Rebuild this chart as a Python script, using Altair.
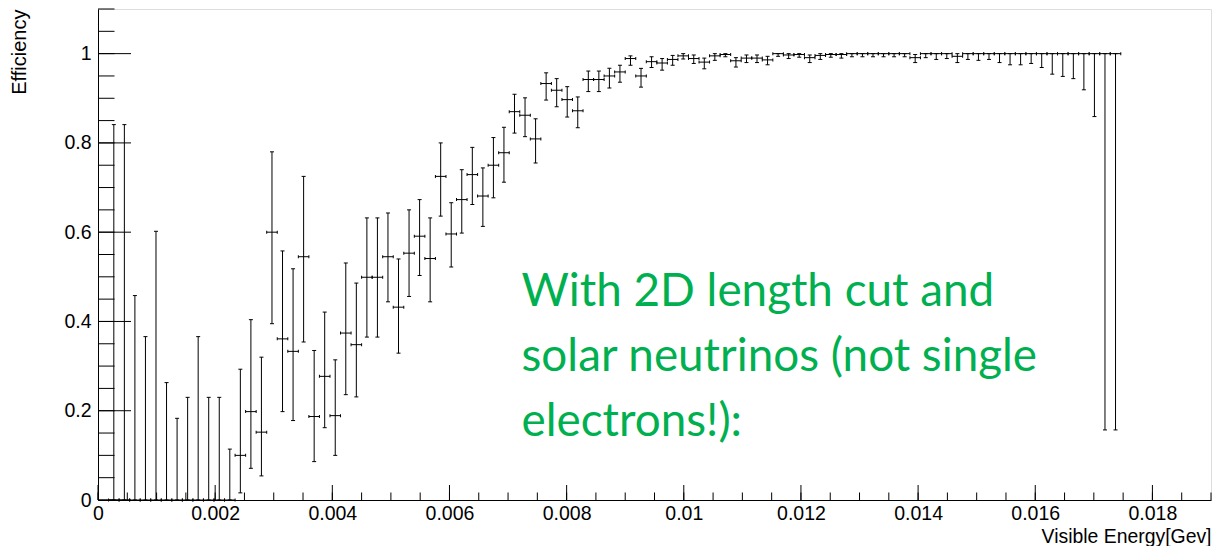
import altair as alt
import pandas as pd

# ---- data (TEfficiency-like histogram, bin width 0.00018) ----
bin_width = 0.00018
bin_index = list(range(1, 97))

efficiency = [
    0, 0, 0, 0, 0, 0, 0, 0, 0, 0, 0, 0,                       # bins 1-12
    0.100, 0.198, 0.152, 0.600, 0.361, 0.333, 0.545,           # 13-19
    0.187, 0.277, 0.189, 0.374, 0.348, 0.499, 0.499, 0.545, 0.432, 0.553,  # 20-29
    0.591, 0.541, 0.725, 0.596, 0.673, 0.729, 0.681, 0.750, 0.778, 0.870,  # 30-39
    0.862, 0.809, 0.933, 0.918, 0.897, 0.872, 0.942, 0.942, 0.950, 0.959,  # 40-49
    0.989, 0.950, 0.982, 0.979, 0.987, 0.995, 0.989, 0.981, 0.995, 0.998,  # 50-59
    0.984, 0.990, 0.990, 0.986, 1.000, 0.997, 0.998, 0.991, 0.996, 0.998,  # 60-69
    0.998, 1.000, 1.000, 1.000, 1.000, 1.000, 1.000, 0.991, 1.000, 1.000,  # 70-79
    1.000, 0.994, 1.000, 1.000, 1.000, 1.000, 1.000, 1.000, 1.000, 1.000,  # 80-89
    1.000, 1.000, 1.000, 1.000, 1.000, 1.000, 1.000,                      # 90-96
]

err_low = [
    0, 0, 0, 0, 0, 0, 0, 0, 0, 0, 0, 0,
    0.016, 0.071, 0.054, 0.395, 0.198, 0.178, 0.354,
    0.086, 0.162, 0.100, 0.236, 0.231, 0.365, 0.365, 0.444, 0.329, 0.456,
    0.503, 0.444, 0.636, 0.522, 0.598, 0.662, 0.613, 0.677, 0.712, 0.822,
    0.814, 0.755, 0.896, 0.881, 0.858, 0.834, 0.915, 0.915, 0.923, 0.936,
    0.974, 0.925, 0.969, 0.963, 0.974, 0.988, 0.978, 0.966, 0.985, 0.993,
    0.970, 0.980, 0.980, 0.975, 0.994, 0.989, 0.992, 0.980, 0.987, 0.992,
    0.990, 0.993, 0.993, 0.993, 0.993, 0.993, 0.993, 0.980, 0.991, 0.987,
    0.989, 0.980, 0.987, 0.985, 0.987, 0.980, 0.975, 0.975, 0.978, 0.969,
    0.954, 0.949, 0.944, 0.919, 0.859, 0.157, 0.157,
]

err_high = [
    0.841, 0.841, 0.458, 0.366, 0.602, 0.263, 0.183, 0.230, 0.366, 0.230, 0.230, 0.114,
    0.293, 0.404, 0.320, 0.780, 0.558, 0.518, 0.725,
    0.335, 0.421, 0.314, 0.531, 0.486, 0.632, 0.632, 0.643, 0.540, 0.650,
    0.673, 0.632, 0.800, 0.666, 0.740, 0.790, 0.744, 0.812, 0.835, 0.909,
    0.901, 0.854, 0.957, 0.944, 0.926, 0.903, 0.961, 0.961, 0.967, 0.974,
    0.995, 0.967, 0.993, 0.989, 0.996, 1.000, 0.997, 0.990, 1.000, 1.000,
    0.991, 0.997, 0.997, 0.994, 1.000, 1.000, 1.000, 0.997, 1.000, 1.000,
    1.000, 1.000, 1.000, 1.000, 1.000, 1.000, 1.000, 0.998, 1.000, 1.000,
    1.000, 1.000, 1.000, 1.000, 1.000, 1.000, 1.000, 1.000, 1.000, 1.000,
    1.000, 1.000, 1.000, 1.000, 1.000, 1.000, 1.000,
]

x_tick_labels = [0, 0.002, 0.004, 0.006, 0.008, 0.01, 0.012, 0.014, 0.016, 0.018]
x_minor = [round(i * 0.0005, 4) for i in range(0, 39)]
y_tick_labels = [0, 0.2, 0.4, 0.6, 0.8, 1]
y_minor = [round(i * 0.05, 2) for i in range(0, 23)]

annotation_lines = ["With 2D length cut and", "solar neutrinos (not single", "electrons!):"]

# ---- tables ----
df = pd.DataFrame({
    "bin": bin_index,
    "eff": efficiency,
    "lo": err_low,
    "hi": err_high,
})
df["x"] = (df["bin"] + 0.5) * bin_width
df["xl"] = df["bin"] * bin_width
df["xr"] = (df["bin"] + 1) * bin_width

W, H = 1113, 491
XMAX, YMAX = 0.019, 1.1
FONT = "Liberation Sans"

xs = alt.Scale(domain=[0, XMAX], nice=False, zero=False)
ys = alt.Scale(domain=[0, YMAX], nice=False, zero=False)

xaxis = alt.Axis(values=x_tick_labels, format="~g", ticks=False, grid=False,
                 labelFont=FONT, labelFontSize=19.5, labelColor="black", labelPadding=4,
                 labelFlush=False, domainColor="black", title="Visible Energy[Gev]",
                 titleFont=FONT, titleFontSize=19.4, titleFontWeight="normal",
                 titleColor="black", titleAnchor="end", titleAlign="right", titleX=W,
                 titleY=42, titleBaseline="alphabetic", labelOverlap=False)
yaxis = alt.Axis(values=y_tick_labels, format="~g", ticks=False, grid=False,
                 labelFont=FONT, labelFontSize=19.5, labelColor="black", labelPadding=7,
                 labelFlush=False, domainColor="black", title="Efficiency", titleFont=FONT,
                 titleFontSize=20, titleFontWeight="normal", titleColor="black",
                 titleAngle=270, titleAlign="right", titleAnchor="end",
                 titleX=-73, titleY=0, titleBaseline="alphabetic", labelOverlap=False)

base = alt.Chart(df)

vbar = base.mark_rule(color="black", strokeWidth=1).encode(
    x=alt.X("x:Q", scale=xs, axis=xaxis),
    y=alt.Y("lo:Q", scale=ys, axis=yaxis),
    y2="hi:Q",
)
hbar = base.mark_rule(color="black", strokeWidth=1).encode(
    x=alt.X("xl:Q", scale=xs), x2="xr:Q", y=alt.Y("eff:Q", scale=ys)
)
vcaps = base.transform_fold(["lo", "hi"], as_=["k", "v"]).mark_tick(
    orient="horizontal", size=4, thickness=1, color="black", opacity=1
).encode(x=alt.X("x:Q", scale=xs), y=alt.Y("v:Q", scale=ys))
hcaps = base.transform_fold(["xl", "xr"], as_=["k", "v"]).mark_tick(
    orient="vertical", size=3, thickness=1, color="black", opacity=1
).encode(x=alt.X("v:Q", scale=xs), y=alt.Y("eff:Q", scale=ys))

# inward ticks (ROOT style)
xmaj = alt.Chart(pd.DataFrame({"t": x_tick_labels})).mark_rule(color="black", strokeWidth=1).encode(
    x=alt.X("t:Q", scale=xs), y=alt.value(H), y2=alt.value(H - 15))
xmin_ = alt.Chart(pd.DataFrame({"t": x_minor})).mark_rule(color="black", strokeWidth=1).encode(
    x=alt.X("t:Q", scale=xs), y=alt.value(H), y2=alt.value(H - 7.5))
ymaj = alt.Chart(pd.DataFrame({"t": y_tick_labels})).mark_rule(color="black", strokeWidth=1).encode(
    y=alt.Y("t:Q", scale=ys), x=alt.value(0), x2=alt.value(33))
ymin_ = alt.Chart(pd.DataFrame({"t": y_minor})).mark_rule(color="black", strokeWidth=1).encode(
    y=alt.Y("t:Q", scale=ys), x=alt.value(0), x2=alt.value(16.5))

# green annotation
note_y = [0.435, 0.289, 0.1436]
notes = []
for line, yy in zip(annotation_lines, note_y):
    notes.append(
        alt.Chart(df.head(1)).mark_text(
            align="left", baseline="alphabetic", font="Lato", fontSize=45.8, color="#00B050"
        ).encode(x=alt.datum(0.00723), y=alt.datum(yy), text=alt.value(line))
    )

chart = alt.layer(xmin_, xmaj, ymin_, ymaj, vbar, hbar, vcaps, hcaps, *notes).properties(
    width=W, height=H,
    autosize=alt.AutoSizeParams(type="none"),
    padding={"left": 90, "top": 1, "right": 3, "bottom": 46},
).configure_view(stroke="black", strokeWidth=1).configure(background="white")

chart.save("out.html", embed_options={"renderer": "svg", "actions": False})
